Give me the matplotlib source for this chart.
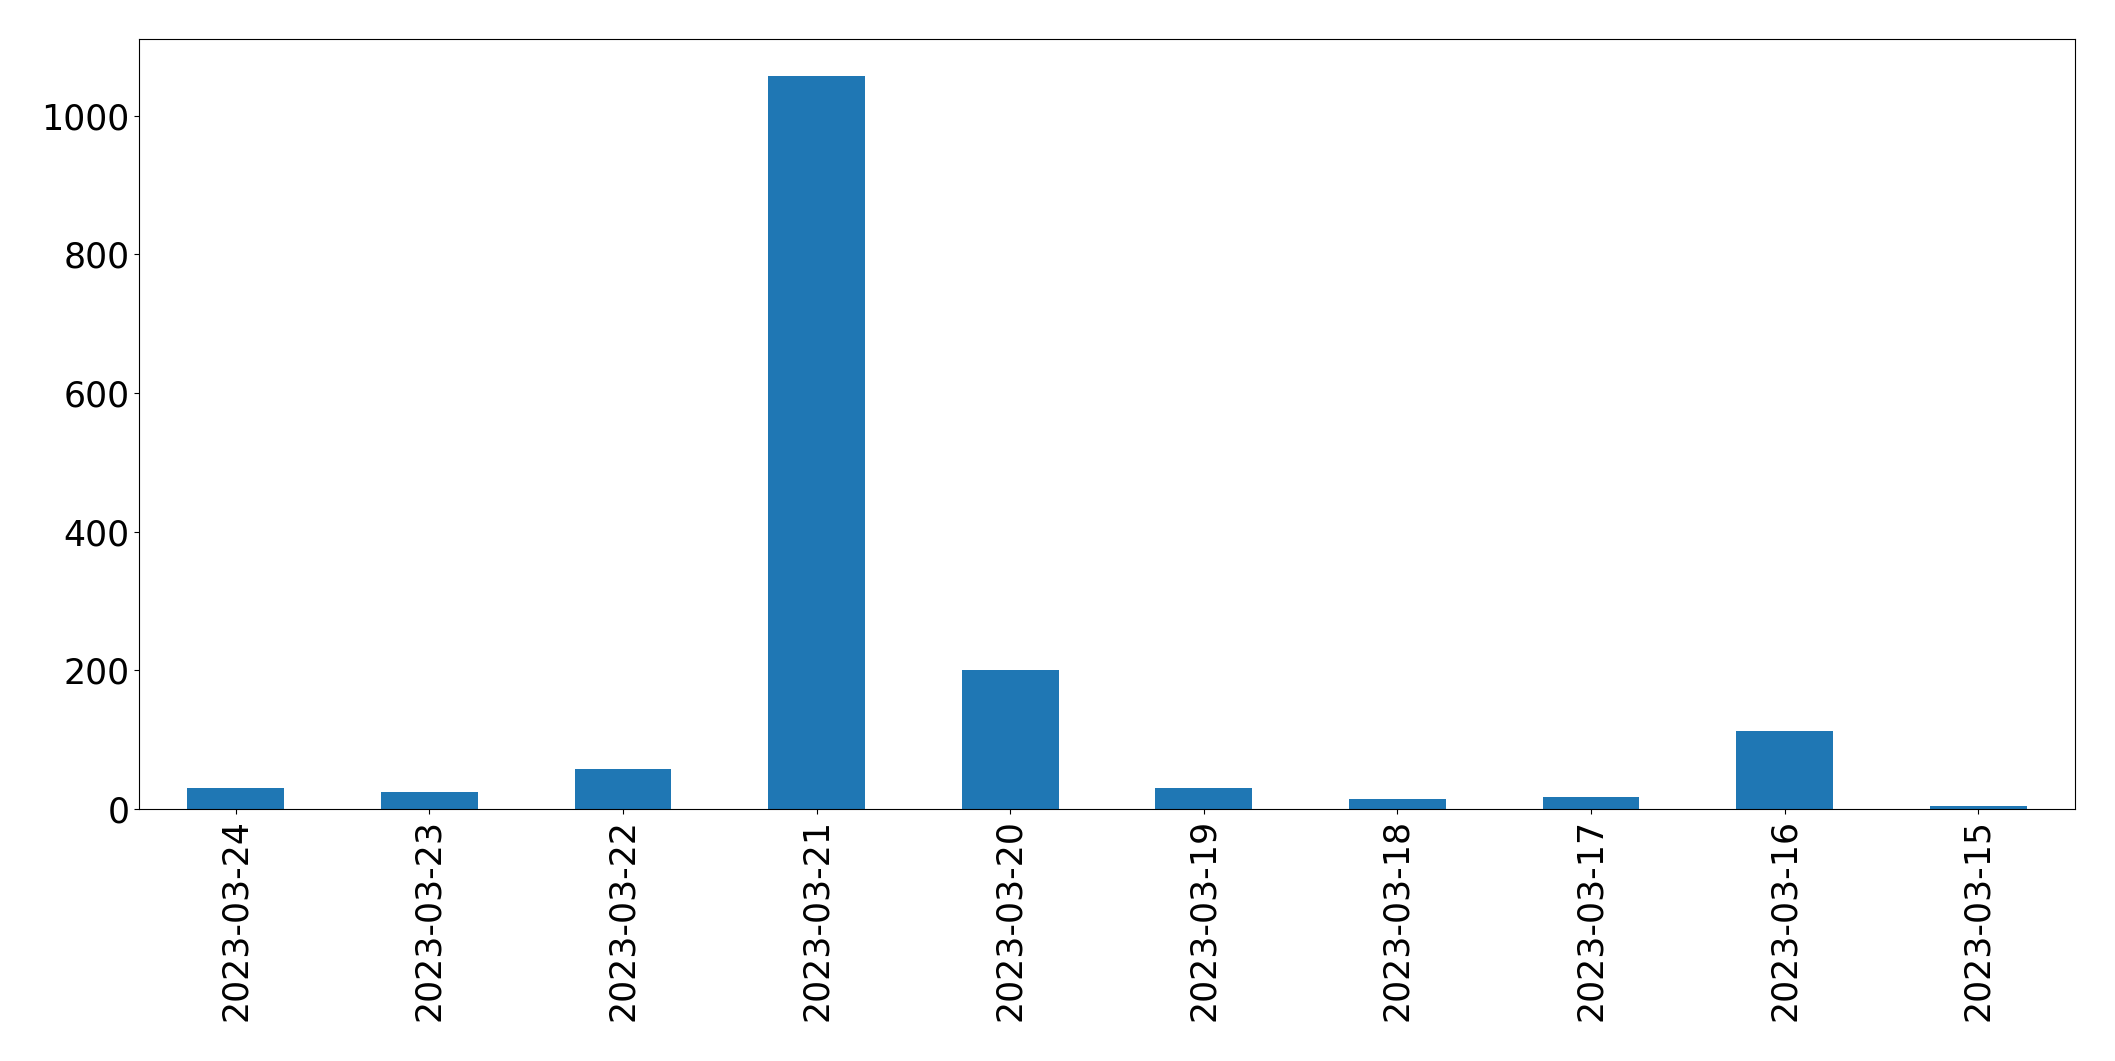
import matplotlib
matplotlib.use("Agg")
import matplotlib.pyplot as plt
import pandas as pd

dates = ["2023-03-24", "2023-03-23", "2023-03-22", "2023-03-21", "2023-03-20",
         "2023-03-19", "2023-03-18", "2023-03-17", "2023-03-16", "2023-03-15"]
counts = [31, 24, 58, 1058, 201, 31, 15, 18, 113, 5]

s = pd.Series(counts, index=dates)

fig = plt.figure(figsize=(21.15, 10.61), dpi=100)
ax = fig.add_axes([139/2115, 1 - 809/1061, (2075-139)/2115, (809-39)/1061])
s.plot(kind="bar", ax=ax, color="#1f77b4")
ax.tick_params(axis="both", labelsize=25)
fig.savefig("out.png", dpi=100)
